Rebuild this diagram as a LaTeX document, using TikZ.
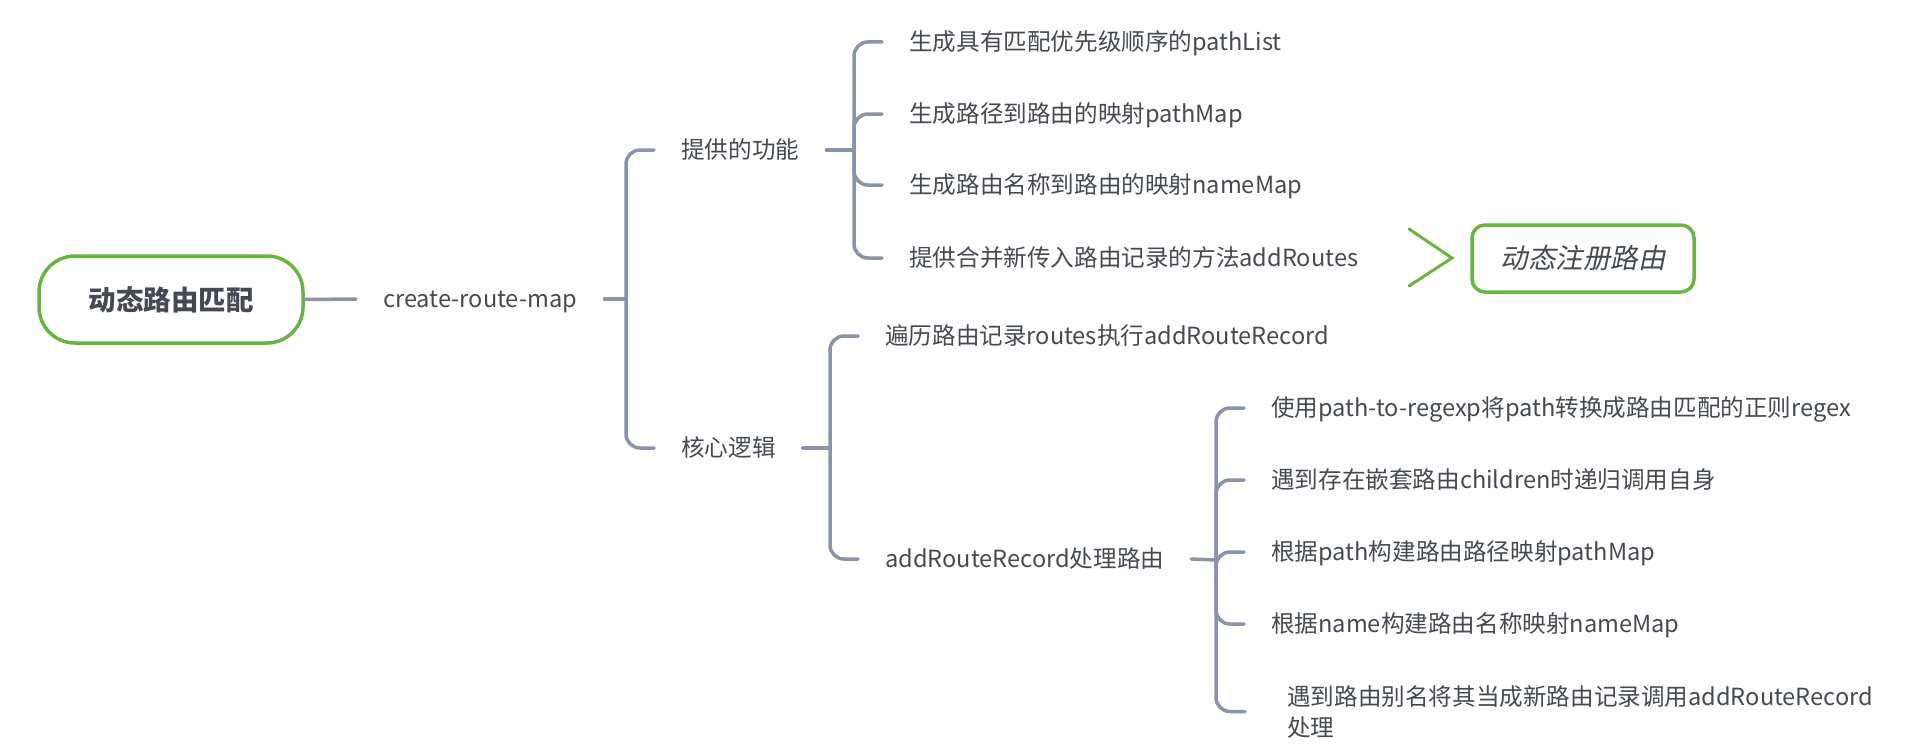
\documentclass[tikz,border=0pt]{standalone}
\usepackage{fontspec}
\setmainfont{Noto Sans CJK SC}
\newfontfamily\slantcjk{Noto Sans CJK SC}[FakeSlant=0.2]
\definecolor{mapgreen}{RGB}{104,180,68}
\definecolor{mapline}{RGB}{138,148,166}
\definecolor{maptext}{RGB}{69,74,82}
\begin{document}
\begin{tikzpicture}[x=1pt,y=-1pt,
		topic/.style={draw=mapgreen,line width=3.5pt,rounded corners=36pt,minimum width=264pt,minimum height=87pt,text=maptext,font=\fontsize{27.5}{33}\selectfont\bfseries},
		item/.style={anchor=west,inner xsep=27pt,inner ysep=4pt,text=maptext,text height=18.4pt,text depth=0.5pt,font=\fontsize{23.6}{31}\selectfont},
		link/.style={draw=mapline,line width=3.5pt,line cap=round},
		branch/.style={link,rounded corners=14pt}]
		\useasboundingbox (0,0) rectangle (1920,752);
		\node [topic] (root) at (171,299.5) {动态路由匹配};
		\node [item] (crm) at (356,299) {create-route-map};
		\node [item] (gn) at (654,150) {提供的功能};
		\node [item] (hx) at (654,448) {核心逻辑};
		\node [item] (g1) at (882,42) {生成具有匹配优先级顺序的pathList};
		\node [item] (g2) at (882,114) {生成路径到路由的映射pathMap};
		\node [item] (g3) at (882,185) {生成路由名称到路由的映射nameMap};
		\node [item] (g4) at (882,258) {提供合并新传入路由记录的方法addRoutes};
		\node [item] (h1) at (858,336) {遍历路由记录routes执行addRouteRecord};
		\node [item] (h2) at (858,559) {addRouteRecord处理路由};
		\node [item] (a1) at (1244,408) {使用path-to-regexp将path转换成路由匹配的正则regex};
		\node [item] (a2) at (1244,480) {遇到存在嵌套路由children时递归调用自身};
		\node [item] (a3) at (1244,552) {根据path构建路由路径映射pathMap};
		\node [item] (a4) at (1244,624) {根据name构建路由名称映射nameMap};
		\node [item,inner xsep=42pt,text height=,text depth=,align=left] (a5) at (1245,711.5) {遇到路由别名将其当成新路由记录调用addRouteRecord\\处理};
		\node [draw=mapgreen,line width=3.5pt,rounded corners=13pt,minimum width=222pt,minimum height=67pt,text=maptext,font=\fontsize{27.5}{33}\selectfont\slantcjk] (reg) at (1583,258.5) {动态注册路由};
		% bar joints
		\coordinate (bcrm) at (626,299);
		\coordinate (bgn) at (854,150);
		\coordinate (bhx) at (830,448);
		\coordinate (bh2) at (1216,560);
		\coordinate (tip) at (1452,258);
		\draw [link] (root.east) to (crm.west);
		\draw [link] (crm.east) to (bcrm);
		\draw [link] (gn.east) to (bgn);
		\draw [link] (hx.east) to (bhx);
		\draw [link] (h2.east) to (bh2);
		\foreach \k in {gn,hx} \draw [branch] (bcrm) |- (\k.west);
		\foreach \k in {g1,g2,g3,g4} \draw [branch] (bgn) |- (\k.west);
		\foreach \k in {h1,h2} \draw [branch] (bhx) |- (\k.west);
		\foreach \k in {a1,a2,a3,a4,a5} \draw [branch] (bh2) |- (\k.west);
		\draw [mapgreen,line width=3pt,line cap=round] (1409,229) to (tip) to (1409,286);
	\end{tikzpicture}
\end{document}
